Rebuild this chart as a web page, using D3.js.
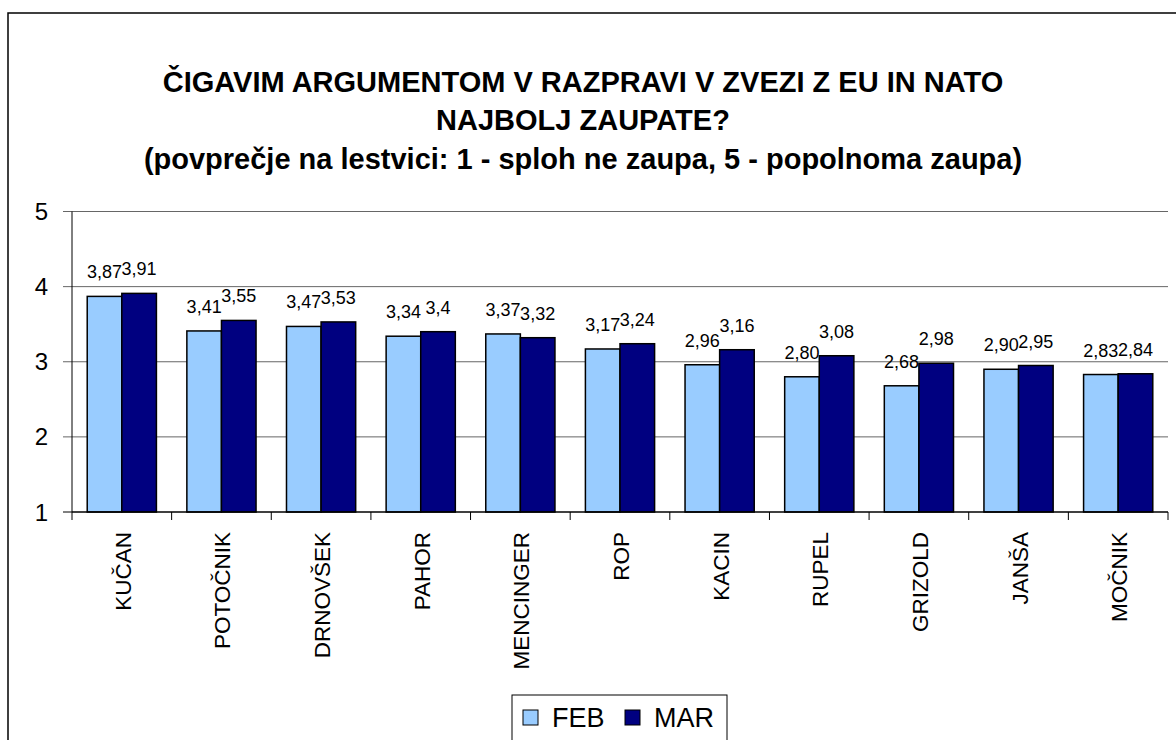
<!DOCTYPE html>
<html>
<head>
  <meta charset="utf-8">
  <script src="https://cdnjs.cloudflare.com/ajax/libs/d3/7.8.5/d3.min.js"></script>
  <style>
    body { margin: 0; background: #fff; }
    text { font-family: "Liberation Sans", Arial, sans-serif; fill: #000; }
    .title { font-weight: bold; font-size: 29px; }
    .grid-line { stroke: #666; stroke-width: 1; }
    .bar { stroke: #000; stroke-width: 1.5; }
    .val { font-size: 18px; text-anchor: middle; }
    .tick-y { font-size: 24px; text-anchor: end; }
    .cat { font-size: 22.5px; text-anchor: end; }
  </style>
</head>
<body>
  <div id="chart"></div>
  <script>
    // data
    const categories = ["KUČAN", "POTOČNIK", "DRNOVŠEK", "PAHOR", "MENCINGER", "ROP",
                        "KACIN", "RUPEL", "GRIZOLD", "JANŠA", "MOČNIK"];
    const series = ["FEB", "MAR"];
    const feb = [3.87, 3.41, 3.47, 3.34, 3.37, 3.17, 2.96, 2.80, 2.68, 2.90, 2.83];
    const mar = [3.91, 3.55, 3.53, 3.4, 3.32, 3.24, 3.16, 3.08, 2.98, 2.95, 2.84];
    const febLabels = ["3,87", "3,41", "3,47", "3,34", "3,37", "3,17", "2,96", "2,80", "2,68", "2,90", "2,83"];
    const marLabels = ["3,91", "3,55", "3,53", "3,4", "3,32", "3,24", "3,16", "3,08", "2,98", "2,95", "2,84"];
    const yTicks = [1, 2, 3, 4, 5];
    const titleLines = [
      "ČIGAVIM ARGUMENTOM V RAZPRAVI V ZVEZI Z EU IN NATO",
      "NAJBOLJ ZAUPATE?",
      "(povprečje na lestvici: 1 - sploh ne zaupa, 5 - popolnoma zaupa)"
    ];
    const colors = ["#99CCFF", "#000080"];

    const W = 1176, H = 740;
    const plot = {left: 72, right: 1168, top: 211.5, bottom: 512};

    const svg = d3.select("#chart").append("svg")
      .attr("width", W).attr("height", H);

    // outer chart border (runs off the right and bottom edge)
    svg.append("rect")
      .attr("x", 8).attr("y", 13)
      .attr("width", W + 10).attr("height", H + 10)
      .attr("fill", "#fff").attr("stroke", "#000").attr("stroke-width", 1.5);

    // title
    svg.selectAll(".title").data(titleLines).join("text")
      .attr("class", "title")
      .attr("x", 583)
      .attr("y", (d, i) => [92, 130, 169][i])
      .attr("text-anchor", "middle")
      .text(d => d);

    const x0 = d3.scaleBand().domain(categories)
      .range([plot.left, plot.right]).paddingInner(0).paddingOuter(0);
    const x1 = d3.scaleBand().domain(series)
      .range([0, x0.bandwidth()]).paddingOuter(0.44).paddingInner(0);
    const y = d3.scaleLinear().domain([1, 5]).range([plot.bottom, plot.top]);

    // gridlines
    svg.selectAll(".grid-line").data(yTicks.filter(d => d > 1)).join("line")
      .attr("class", "grid-line")
      .attr("x1", plot.left - 9).attr("x2", plot.right)
      .attr("y1", d => y(d)).attr("y2", d => y(d));

    // y axis
    svg.append("line")
      .attr("x1", plot.left).attr("x2", plot.left)
      .attr("y1", y(5)).attr("y2", y(1))
      .attr("stroke", "#000").attr("stroke-width", 1);
    svg.append("line")
      .attr("x1", plot.left - 9).attr("x2", plot.left)
      .attr("y1", y(1)).attr("y2", y(1))
      .attr("stroke", "#000");
    svg.selectAll(".tick-y").data(yTicks).join("text")
      .attr("class", "tick-y")
      .attr("x", 48).attr("y", d => y(d) + 8.5)
      .text(d => d);

    // bars
    const rows = categories.map((c, i) => ({c, vals: [feb[i], mar[i]], labs: [febLabels[i], marLabels[i]]}));
    const groups = svg.selectAll(".grp").data(rows).join("g")
      .attr("transform", d => `translate(${x0(d.c)},0)`);

    groups.selectAll("rect").data(d => series.map((s, j) => ({s, v: d.vals[j], j})))
      .join("rect")
      .attr("class", "bar")
      .attr("x", d => x1(d.s))
      .attr("width", x1.bandwidth())
      .attr("y", d => y(d.v))
      .attr("height", d => y(1) - y(d.v))
      .attr("fill", d => colors[d.j]);

    groups.selectAll(".val").data(d => series.map((s, j) => ({s, v: d.vals[j], l: d.labs[j]})))
      .join("text")
      .attr("class", "val")
      .attr("x", d => x1(d.s) + x1.bandwidth() / 2)
      .attr("y", d => y(d.v) - 18)
      .text(d => d.l);

    // x axis
    svg.append("line")
      .attr("x1", plot.left).attr("x2", plot.right)
      .attr("y1", y(1)).attr("y2", y(1))
      .attr("stroke", "#000").attr("stroke-width", 1.5);
    svg.selectAll(".xtick").data(categories.concat([null])).join("line")
      .attr("x1", (d, i) => plot.left + i * x0.bandwidth())
      .attr("x2", (d, i) => plot.left + i * x0.bandwidth())
      .attr("y1", y(1)).attr("y2", y(1) + 8)
      .attr("stroke", "#000");

    svg.selectAll(".cat").data(categories).join("text")
      .attr("class", "cat")
      .attr("transform", d => `translate(${x0(d) + x0.bandwidth() / 2 + 9},532) rotate(-90)`)
      .text(d => d);

    // legend
    const lg = svg.append("g").attr("transform", "translate(512,695)");
    lg.append("rect").attr("width", 215).attr("height", 60)
      .attr("fill", "#fff").attr("stroke", "#000").attr("stroke-width", 1);
    const items = lg.selectAll(".item").data(series).join("g")
      .attr("transform", (d, i) => `translate(${[11, 113][i]},0)`);
    items.append("rect")
      .attr("x", 0).attr("y", 15).attr("width", 15).attr("height", 15)
      .attr("fill", (d, i) => colors[i]).attr("stroke", "#000").attr("stroke-width", 1);
    items.append("text")
      .attr("x", 29).attr("y", 32)
      .style("font-size", "27px")
      .text(d => d);
  </script>
</body>
</html>
